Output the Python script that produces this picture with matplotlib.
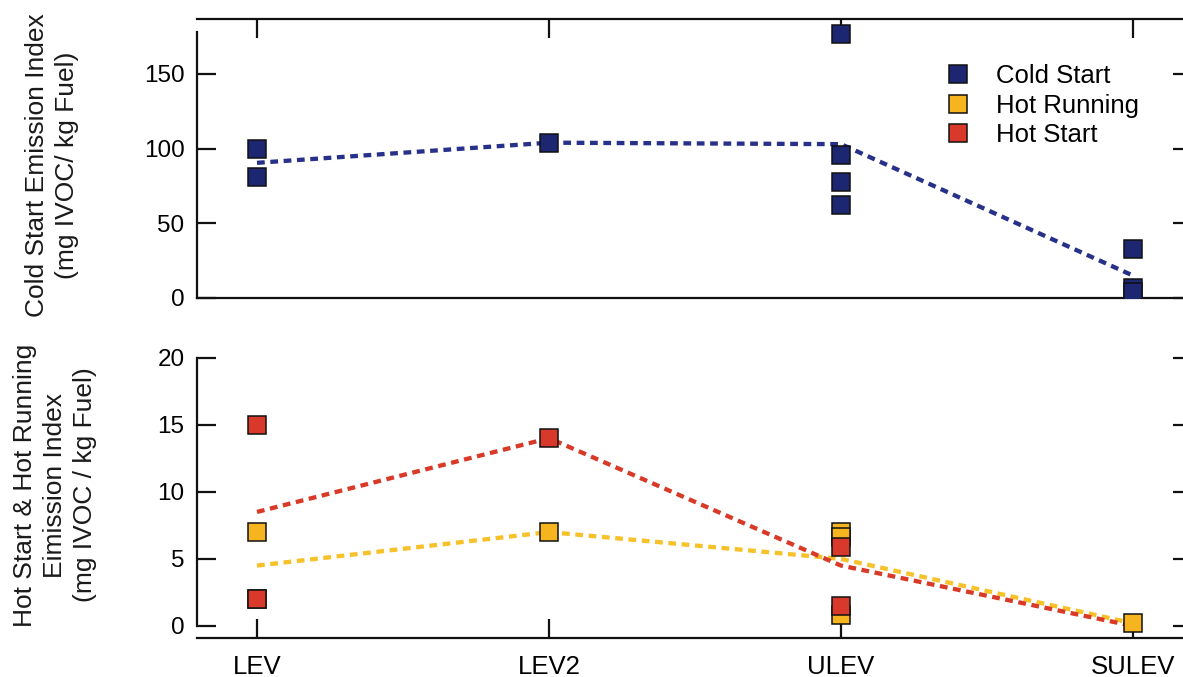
import matplotlib
matplotlib.use("Agg")
import matplotlib.pyplot as plt
from matplotlib.lines import Line2D

plt.rcParams['font.family'] = ['Liberation Sans', 'DejaVu Sans']

# ---------------- data ----------------
categories = ["LEV", "LEV2", "ULEV", "SULEV"]

# Cold start individual vehicles (category index, value)
cold_x = [0, 0, 1, 2, 2, 2, 2, 3, 3, 3]
cold_y = [100, 81, 104, 177, 96, 78, 62, 33, 7, 4]
cold_mean = [90.5, 104, 103, 15]

# Hot running individual vehicles
hotrun_x = [0, 0, 1, 2, 2, 2, 3]
hotrun_y = [2, 7, 7, 7.0, 6.6, 0.8, 0.2]
hotrun_mean = [4.5, 7, 5.0, 0.2]

# Hot start individual vehicles
hotstart_x = [0, 0, 1, 2, 2]
hotstart_y = [15, 2, 14, 5.9, 1.5]
hotstart_mean = [8.5, 14, 4.5, 0.0]

cold_ticks = [0, 50, 100, 150]
hot_ticks = [0, 5, 10, 15, 20]

# ---------------- style ----------------
C_BLUE_M = '#1d2670'
C_BLUE_L = '#28318a'
C_YEL_M = '#f6b51f'
C_YEL_L = '#f7c12a'
C_RED_M = '#d8392a'
C_RED_L = '#d93a28'

W, H = 1183, 677
fig = plt.figure(figsize=(W / 100, H / 100), dpi=100)

xl = (-0.2055, 3.202)
ax_left = 197 / W
ax_w = 995 / W

ax1 = fig.add_axes([ax_left, 1 - 298 / H, ax_w, (298 - 19) / H])
ax2 = fig.add_axes([ax_left, 1 - 638 / H, ax_w, (638 - 351) / H])

ms = 13.5
dash = (0, (1.8, 1.3))
lw = 3.1

xs = list(range(len(categories)))

# top panel
ax1.plot(xs, cold_mean, linestyle=dash, color=C_BLUE_L, lw=lw, zorder=2,
         dash_capstyle='butt')
ax1.plot(cold_x, cold_y, linestyle='none', marker='s', ms=ms,
         mfc=C_BLUE_M, mec='#111111', mew=1.1, zorder=3)

# bottom panel
ax2.plot(xs, hotrun_mean, linestyle=dash, color=C_YEL_L, lw=lw, zorder=2,
         dash_capstyle='butt')
ax2.plot(xs, hotstart_mean, linestyle=dash, color=C_RED_L, lw=lw, zorder=2,
         dash_capstyle='butt')
ax2.plot(hotrun_x, hotrun_y, linestyle='none', marker='s', ms=ms,
         mfc=C_YEL_M, mec='#111111', mew=1.1, zorder=3)
ax2.plot(hotstart_x, hotstart_y, linestyle='none', marker='s', ms=ms,
         mfc=C_RED_M, mec='#111111', mew=1.1, zorder=4)

spine_lw = 1.6
tick_len = 14
for ax in (ax1, ax2):
    ax.set_xlim(*xl)
    for s in ax.spines.values():
        s.set_linewidth(spine_lw)
        s.set_color('#111111')
    ax.spines['right'].set_visible(False)
    ax.set_xticks(xs)
    ax.tick_params(axis='both', direction='in', length=tick_len,
                   width=spine_lw, color='#111111')
    ax.tick_params(axis='y', right=True, labelright=False,
                   labelsize=17.5, pad=9)

# top panel axes
ax1.set_ylim(0, 186.8)
ax1.set_yticks(cold_ticks)
ax1.spines['left'].set_bounds(0, 178)
ax1.tick_params(axis='x', top=True, bottom=False,
                labeltop=False, labelbottom=False)

# bottom panel axes
ax2.set_ylim(-0.9, 20.5)
ax2.set_yticks(hot_ticks)
ax2.spines['left'].set_bounds(0, 20)
ax2.spines['top'].set_visible(False)
ax2.set_xticklabels(categories)
ax2.tick_params(axis='x', top=False, bottom=True, labelsize=18.5, pad=12)

# y labels
fig.text(52 / W, 1 - 165 / H,
         "Cold Start Emission Index\n(mg IVOC/ kg Fuel)",
         rotation=90, ha='center', va='center', fontsize=19,
         linespacing=1.3, color='#1a1a1a')
fig.text(55 / W, 1 - 485 / H,
         "Hot Start & Hot Running\nEimission Index\n(mg IVOC / kg Fuel)",
         rotation=90, ha='center', va='center', fontsize=19,
         linespacing=1.3, color='#1a1a1a')

# legend
handles = [
    Line2D([], [], linestyle='none', marker='s', ms=ms, mfc=C_BLUE_M,
           mec='#111111', mew=1.1),
    Line2D([], [], linestyle='none', marker='s', ms=ms, mfc=C_YEL_M,
           mec='#111111', mew=1.1),
    Line2D([], [], linestyle='none', marker='s', ms=ms, mfc=C_RED_M,
           mec='#111111', mew=1.1),
]
leg = ax1.legend(handles, ["Cold Start", "Hot Running", "Hot Start"],
                 loc='upper left', bbox_to_anchor=(945 / W, 1 - 64 / H),
                 bbox_transform=fig.transFigure, frameon=False,
                 fontsize=18.5, handlelength=1.0, handletextpad=1.0,
                 labelspacing=0.22, borderpad=0.0, borderaxespad=0.0)

fig.savefig("out.png", dpi=100)
